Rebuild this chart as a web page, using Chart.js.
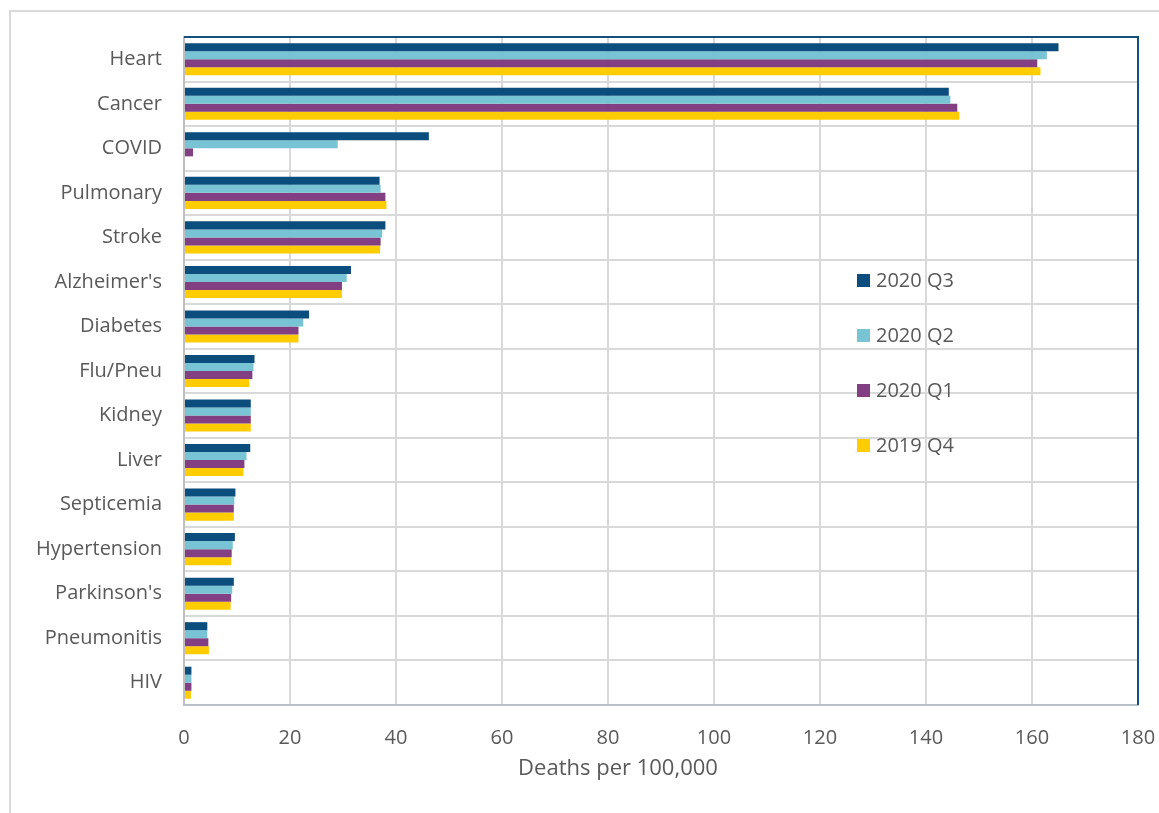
<!DOCTYPE html>
<html>
<head>
<meta charset="utf-8">
<script src="https://cdn.jsdelivr.net/npm/chart.js@4"></script>
<style>
  html, body { margin: 0; padding: 0; background: #ffffff; }
  #wrap { position: relative; width: 1159px; height: 813px; overflow: hidden; }
  #frame { position: absolute; left: 9px; top: 10px; width: 1200px; height: 900px;
           border-left: 2px solid #d9d9d9; border-top: 2px solid #d9d9d9; }
  canvas { position: absolute; left: 0; top: 0; }
</style>
</head>
<body>
<div id="wrap">
  <div id="frame"></div>
  <canvas id="c" width="1159" height="813"></canvas>
</div>
<script>
// Causes of death, rate per 100,000 by quarter
const categories = ['Heart', 'Cancer', 'COVID', 'Pulmonary', 'Stroke', "Alzheimer's", 'Diabetes',
  'Flu/Pneu', 'Kidney', 'Liver', 'Septicemia', 'Hypertension', "Parkinson's", 'Pneumonitis', 'HIV'];
const seriesLabels = ['2020 Q3', '2020 Q2', '2020 Q1', '2019 Q4'];
const q3_2020 = [165.0, 144.3, 46.2, 36.9, 38.0, 31.5, 23.6, 13.3, 12.6, 12.5, 9.7, 9.6, 9.4, 4.4, 1.4];
const q2_2020 = [162.8, 144.6, 29.0, 37.1, 37.4, 30.7, 22.5, 13.1, 12.6, 11.8, 9.5, 9.2, 9.1, 4.4, 1.4];
const q1_2020 = [161.0, 145.9, 1.7, 38.0, 37.1, 29.8, 21.6, 12.9, 12.6, 11.4, 9.4, 9.0, 8.9, 4.6, 1.4];
const q4_2019 = [161.6, 146.3, null, 38.2, 37.0, 29.8, 21.6, 12.3, 12.6, 11.2, 9.4, 8.9, 8.8, 4.7, 1.3];
const xMin = 0, xMax = 180, xStep = 20;
const xTitle = 'Deaths per 100,000';

const colors = ['#0B4D7C', '#78C4D5', '#823F81', '#FFCC00'];
const FONT = '"Open Sans", "Noto Sans", sans-serif';
const TEXT = '#595959';

// Legend inside the plot area, plus the dark top/right frame of the plot
const overlay = {
  id: 'overlay',
  afterDatasetsDraw(chart) {
    const ctx = chart.ctx, a = chart.chartArea;
    ctx.save();
    ctx.strokeStyle = '#13507E';
    ctx.lineWidth = 2;
    ctx.beginPath();
    ctx.moveTo(a.left, a.top);
    ctx.lineTo(a.right, a.top);
    ctx.lineTo(a.right, a.bottom);
    ctx.stroke();

    const lx = a.left + 673, ly0 = a.top + 244, dy = 55;
    ctx.font = '20px ' + FONT;
    ctx.textBaseline = 'middle';
    ctx.textAlign = 'left';
    chart.data.datasets.forEach((ds, i) => {
      const y = ly0 + i * dy;
      ctx.fillStyle = ds.backgroundColor;
      ctx.fillRect(lx, y - 7, 13, 13);
      ctx.fillStyle = TEXT;
      ctx.fillText(ds.label, lx + 19, y);
    });

    ctx.textAlign = 'center';
    ctx.textBaseline = 'middle';
    ctx.font = '22px ' + FONT;
    ctx.fillText(xTitle, 618, 769);
    ctx.restore();
  }
};

const seriesData = [q3_2020, q2_2020, q1_2020, q4_2019];

new Chart(document.getElementById('c'), {
  type: 'bar',
  data: {
    labels: categories,
    datasets: seriesLabels.map((lab, i) => ({
      label: lab,
      data: seriesData[i],
      backgroundColor: colors[i],
      borderWidth: 0,
      categoryPercentage: 0.72,
      barPercentage: 1.0
    }))
  },
  options: {
    indexAxis: 'y',
    responsive: false,
    animation: false,
    layout: { padding: { top: 37, right: 21, left: 0, bottom: 0 } },
    plugins: { legend: { display: false }, tooltip: { enabled: false } },
    scales: {
      x: {
        min: xMin, max: xMax,
        afterFit(scale) { scale.height = 108; scale.paddingLeft = 0; scale.paddingRight = 0; },
        ticks: { stepSize: xStep, color: TEXT, font: { family: FONT, size: 20 }, padding: 21 },
        grid: { color: '#d9d9d9', lineWidth: 2, drawTicks: false },
        border: { color: '#b8c0c8', width: 2 }
      },
      y: {
        afterFit(scale) { scale.width = 184; scale.paddingTop = 0; scale.paddingBottom = 0; },
        ticks: { color: TEXT, font: { family: FONT, size: 20 }, padding: 22, autoSkip: false },
        grid: { color: '#d9d9d9', lineWidth: 2, drawTicks: false, offset: true },
        border: { color: '#bfbfbf', width: 2 }
      }
    }
  },
  plugins: [overlay]
});
</script>
</body>
</html>
